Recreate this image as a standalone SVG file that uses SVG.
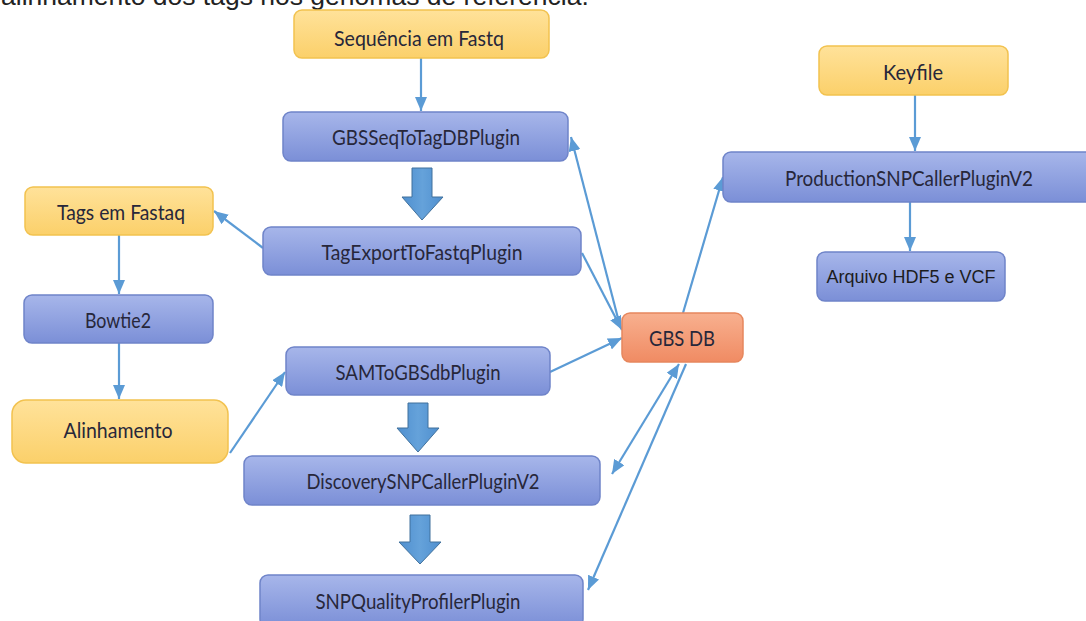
<svg xmlns="http://www.w3.org/2000/svg" width="1086" height="621" viewBox="0 0 1086 621">
<defs>
<linearGradient id="gBlue" x1="0" y1="0" x2="0" y2="1">
<stop offset="0" stop-color="#a7b6ea"/>
<stop offset="1" stop-color="#7b8fd7"/>
</linearGradient>
<linearGradient id="gYellow" x1="0" y1="0" x2="0" y2="1">
<stop offset="0" stop-color="#ffe29a"/>
<stop offset="1" stop-color="#fbd06a"/>
</linearGradient>
<linearGradient id="gSalmon" x1="0" y1="0" x2="0" y2="1">
<stop offset="0" stop-color="#f8b08f"/>
<stop offset="1" stop-color="#f08b63"/>
</linearGradient>
<linearGradient id="gArrow" x1="0" y1="0" x2="1" y2="0">
<stop offset="0" stop-color="#4f8fcf"/>
<stop offset="0.5" stop-color="#65a2da"/>
<stop offset="1" stop-color="#4f8fcf"/>
</linearGradient>
<marker id="ah" viewBox="0 0 14 12" markerUnits="userSpaceOnUse" markerWidth="14" markerHeight="12" refX="14" refY="6" orient="auto-start-reverse">
<path d="M0,0 L14,6 L0,12 z" fill="#5b9bd5"/>
</marker>
</defs>
<style>
.blue{fill:url(#gBlue);stroke:#6f84c9;stroke-width:1.5}
.yellow{fill:url(#gYellow);stroke:#f2c24f;stroke-width:1.5}
.salmon{fill:url(#gSalmon);stroke:#e6875d;stroke-width:1.5}
.lbl{font-family:Lato,"Open Sans",sans-serif;font-size:21px;fill:#27273a;text-anchor:middle}
.arial{font-family:"Liberation Sans",Arial,sans-serif;font-size:18px;fill:#1c1c1c;text-anchor:middle}
.conn{stroke:#5b9bd5;stroke-width:2.2;fill:none;marker-end:url(#ah)}
.block{fill:url(#gArrow);stroke:#41719c;stroke-width:1}
</style>
<rect width="1086" height="621" fill="#ffffff"/>
<text x="1" y="5" font-family="Liberation Sans, Arial, sans-serif" font-size="26.5" fill="#222222">alinhamento dos tags nos genomas de referência.</text>

<g id="connectors">
<path class="conn" d="M421,58 L421,111"/>
<path class="conn" d="M915,95 L915,151"/>
<path class="conn" d="M910,202 L910,251"/>
<path class="conn" d="M263,248 L214,211"/>
<path class="conn" d="M119,235 L119,294"/>
<path class="conn" d="M119,343 L119,399"/>
<path class="conn" d="M230,453 L285,372"/>
<path class="conn" d="M620,326 L571,137"/>
<path class="conn" d="M582,253 L622,330"/>
<path class="conn" d="M550,372 L622,338"/>
<path class="conn" d="M683,313 L723,177"/>
<path class="conn" d="M612,474 L679,364" marker-start="url(#ah)"/>
<path class="conn" d="M686,364 L588,590"/>
<path class="block" d="M412,168 L432,168 L432,197 L443,197 L422,220 L402,197 L412,197 z"/>
<path class="block" d="M408,403 L428,403 L428,428 L439,428 L418,452 L397,428 L408,428 z"/>
<path class="block" d="M410,515 L430,515 L430,542 L441,542 L420,564 L399,542 L410,542 z"/>
</g>

<g id="seq-fastq">
<rect class="yellow" x="294" y="10" width="255" height="48" rx="8"/>
<text class="lbl" x="419" y="46" textLength="170" lengthAdjust="spacingAndGlyphs">Sequência em Fastq</text>
</g>
<g id="gbsseq">
<rect class="blue" x="283" y="112" width="285" height="49" rx="8"/>
<text class="lbl" x="426" y="145" textLength="188" lengthAdjust="spacingAndGlyphs">GBSSeqToTagDBPlugin</text>
</g>
<g id="tagexport">
<rect class="blue" x="263" y="227" width="318" height="48" rx="8"/>
<text class="lbl" x="422" y="260" textLength="201" lengthAdjust="spacingAndGlyphs">TagExportToFastqPlugin</text>
</g>
<g id="tags-fastaq">
<rect class="yellow" x="25" y="187" width="188" height="48" rx="8"/>
<text class="lbl" x="121" y="220" textLength="128" lengthAdjust="spacingAndGlyphs">Tags em Fastaq</text>
</g>
<g id="bowtie2">
<rect class="blue" x="24" y="295" width="189" height="48" rx="8"/>
<text class="lbl" x="118" y="328" textLength="66" lengthAdjust="spacingAndGlyphs">Bowtie2</text>
</g>
<g id="alinhamento">
<rect class="yellow" x="12" y="400" width="216" height="63" rx="14"/>
<text class="lbl" x="118" y="438" textLength="109" lengthAdjust="spacingAndGlyphs">Alinhamento</text>
</g>
<g id="samtogbs">
<rect class="blue" x="286" y="347" width="264" height="48" rx="8"/>
<text class="lbl" x="418" y="380" textLength="165" lengthAdjust="spacingAndGlyphs">SAMToGBSdbPlugin</text>
</g>
<g id="discovery">
<rect class="blue" x="244" y="456" width="356" height="49" rx="8"/>
<text class="lbl" x="423" y="489" textLength="233" lengthAdjust="spacingAndGlyphs">DiscoverySNPCallerPluginV2</text>
</g>
<g id="snpquality">
<rect class="blue" x="260" y="575" width="323" height="52" rx="8"/>
<text class="lbl" x="418" y="609" textLength="205" lengthAdjust="spacingAndGlyphs">SNPQualityProfilerPlugin</text>
</g>
<g id="gbsdb">
<rect class="salmon" x="622" y="313" width="121" height="49" rx="8"/>
<text class="lbl" x="682" y="346" textLength="66" lengthAdjust="spacingAndGlyphs">GBS DB</text>
</g>
<g id="keyfile">
<rect class="yellow" x="819" y="46" width="189" height="49" rx="8"/>
<text class="lbl" x="913" y="80" textLength="60" lengthAdjust="spacingAndGlyphs">Keyfile</text>
</g>
<g id="production">
<rect class="blue" x="723" y="152" width="375" height="50" rx="8"/>
<text class="lbl" x="909" y="186" textLength="248" lengthAdjust="spacingAndGlyphs">ProductionSNPCallerPluginV2</text>
</g>
<g id="arquivo">
<rect class="blue" x="817" y="252" width="188" height="49" rx="8"/>
<text class="arial" x="911" y="283">Arquivo HDF5 e VCF</text>
</g>
</svg>
